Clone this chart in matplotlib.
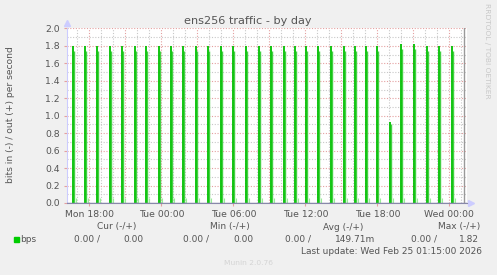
import numpy as np
import matplotlib
matplotlib.use('Agg')
import matplotlib.pyplot as plt

# spikes (out direction, bits per second)
spike_times = ['Mon 16:40', 'Mon 17:40', 'Mon 18:40', 'Mon 19:45', 'Mon 20:45',
               'Mon 21:50', 'Mon 22:45', 'Mon 23:50', 'Tue 00:50', 'Tue 01:50',
               'Tue 02:55', 'Tue 03:55', 'Tue 05:00', 'Tue 06:00', 'Tue 07:05',
               'Tue 08:10', 'Tue 09:10', 'Tue 10:15', 'Tue 11:10', 'Tue 12:05',
               'Tue 13:05', 'Tue 14:10', 'Tue 15:15', 'Tue 16:10', 'Tue 17:05',
               'Tue 18:00', 'Tue 19:05', 'Tue 20:00', 'Tue 21:05', 'Tue 22:10',
               'Tue 23:10', 'Wed 00:15']
spike_bps = [1.8, 1.8, 1.8, 1.8, 1.8, 1.8, 1.8, 1.8, 1.8, 1.8,
             1.8, 1.8, 1.8, 1.8, 1.8, 1.8, 1.8, 1.8, 1.8, 1.8,
             1.8, 1.8, 1.8, 1.8, 1.8, 1.8, 0.93, 1.82, 1.82, 1.8,
             1.8, 1.8]

view_start = 'Mon 16:08'
view_end = 'Wed 01:28'
last_update = 'Wed 01:15'

x_labels = ['Mon 18:00', 'Tue 00:00', 'Tue 06:00', 'Tue 12:00', 'Tue 18:00', 'Wed 00:00']
y_ticks = [0.0, 0.2, 0.4, 0.6, 0.8, 1.0, 1.2, 1.4, 1.6, 1.8, 2.0]

legend_cols = ['Cur (-/+)', 'Min (-/+)', 'Avg (-/+)', 'Max (-/+)']
legend_in = ['0.00 /', '0.00 /', '0.00 /', '0.00 /']
legend_out = ['0.00', '0.00', '149.71m', '1.82']

W, H = 497, 275
DAY = {'Mon': 0, 'Tue': 24, 'Wed': 48}


def to_hours(s):
    d, hm = s.split()
    h, m = hm.split(':')
    return DAY[d] + int(h) + int(m) / 60.0


def px(x, y):
    return x / W, 1 - y / H


t = np.array([to_hours(s) for s in spike_times])
v = np.array(spike_bps)

fig = plt.figure(figsize=(W / 100, H / 100), dpi=100, facecolor='#f0f0f0')
ax = fig.add_axes([67 / W, (H - 203) / H, 400 / W, 175 / H])
ax.set_facecolor('white')

x0, x1 = to_hours(view_start), to_hours(view_end)
ax.set_xlim(x0, x1)
ax.set_ylim(0, 2.005)

# grid like rrdtool: grey dotted minor, red dotted major
dots = (0, (1, 1.5))
for h in np.arange(np.ceil(x0), x1, 1):
    major = int(h) % 3 == 0
    ax.axvline(h, color='#e4a0a0' if major else '#c8c8c8', lw=0.8, ls=dots, zorder=1)
for yy in np.arange(0.1, 2.01, 0.1):
    major = int(round(yy * 10)) % 2 == 0
    ax.axhline(yy, color='#e4a0a0' if major else '#c8c8c8', lw=0.8, ls=dots, zorder=1)

# spikes
ax.vlines(t, 0, v, color='#00c000', lw=1.3, zorder=3)
ax.vlines(t + 0.09, 0, v * 0.97, color='#44d044', lw=1.0, zorder=2)
ax.vlines(t + 0.18, 0, 0.06, color='#99ee99', lw=0.8, zorder=2)

ax.axvline(to_hours(last_update), color='#999999', lw=1.0, zorder=4)
ax.axhline(0, color='#8888aa', lw=1.0, zorder=5)

for s in ['top', 'right']:
    ax.spines[s].set_visible(False)
ax.spines['left'].set_color('#ccccff')
ax.spines['bottom'].set_color('#8888aa')
ax.plot([0], [1.03], marker='^', ms=4, color='#ccccff', transform=ax.transAxes, clip_on=False)
ax.plot([1.01], [0], marker='>', ms=4, color='#ccccff', transform=ax.transAxes, clip_on=False)

ax.set_xticks([to_hours(s) for s in x_labels])
ax.set_xticklabels(x_labels)
ax.set_yticks(y_ticks)
ax.set_yticklabels(['%.1f' % y for y in y_ticks])
ax.tick_params(axis='both', length=2, width=0.8, color='#e4a0a0', labelsize=6.7,
               labelcolor='#555555', pad=3)

txt = dict(family='DejaVu Sans', color='#555555')
fig.text(*px(248, 21), 'ens256 traffic - by day', ha='center', va='center', fontsize=8.1, **txt)
fig.text(*px(11, 115), 'bits in (-) / out (+) per second', rotation=90,
         ha='center', va='center', fontsize=6.6, **txt)
fig.text(*px(487, 51), 'RRDTOOL / TOBI OETIKER', rotation=270, ha='center', va='center',
         fontsize=5.4, color='#c8c8c8', family='DejaVu Sans')

# legend
fig.patches.append(plt.Rectangle(px(14, 242), 5 / W, 5 / H, transform=fig.transFigure,
                                 color='#00cc00'))
fig.text(*px(20, 239), 'bps', ha='left', va='center', fontsize=6.5, **txt)
col_right = [136, 250, 363, 480]
in_right = [100, 209, 311, 437]
out_right = [144, 253, 375, 479]
for i in range(4):
    fig.text(*px(col_right[i], 227), legend_cols[i], ha='right', va='center', fontsize=6.5, **txt)
    fig.text(*px(in_right[i], 239), legend_in[i], ha='right', va='center', fontsize=6.5, **txt)
    fig.text(*px(out_right[i], 239), legend_out[i], ha='right', va='center', fontsize=6.5, **txt)
fig.text(*px(482, 251), 'Last update: Wed Feb 25 01:15:00 2026', ha='right', va='center',
         fontsize=6.5, **txt)
fig.text(*px(248, 263), 'Munin 2.0.76', ha='center', va='center', fontsize=5.4,
         color='#d4d4d4', family='DejaVu Sans')

fig.savefig('out.png', dpi=100, facecolor=fig.get_facecolor())
